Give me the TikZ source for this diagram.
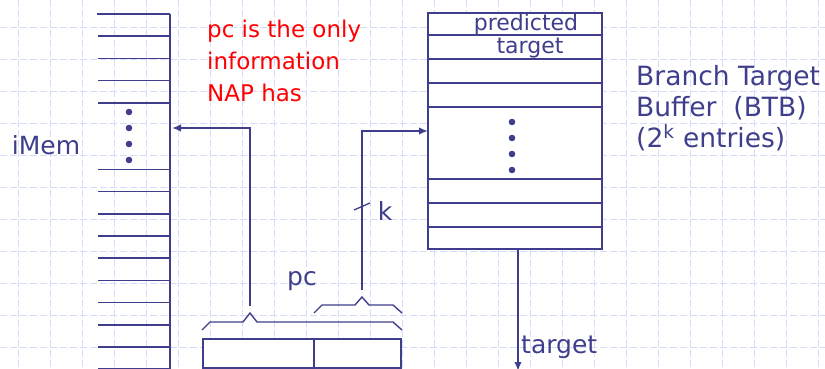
\documentclass[tikz,border=0pt]{standalone}
\usepackage{fontspec}
\setmainfont{DejaVu Sans}
\usetikzlibrary{arrows.meta, positioning, calc}
\definecolor{SlideNavy}{RGB}{62,62,140}
\definecolor{SlideRed}{RGB}{255,0,0}
\definecolor{GridBlue}{RGB}{212,220,250}

\begin{document}
\begin{tikzpicture}[x=1pt,y=-1pt,
	gridline/.style={draw=GridBlue,line width=1.4pt,dash pattern=on 7pt off 3pt},
	memrow/.style={draw=SlideNavy,line width=1.7pt},
	box/.style={draw=SlideNavy,line width=2.4pt,fill=white,inner sep=0pt,outer sep=0pt},
	wire/.style={draw=SlideNavy,line width=1.8pt,-{Latex[length=9pt,width=7.5pt]}},
	brace/.style={draw=SlideNavy,line width=1.4pt},
	lbl/.style={text=SlideNavy,inner sep=0pt,font=\fontsize{25}{30}\selectfont},
	dot/.style={fill=SlideNavy}]
\useasboundingbox (0,0) rectangle (825,369);
% background grid
\foreach \gx in {18.3,50.3,...,818.3}
	\draw[gridline] (\gx,0) -- (\gx,369);
\foreach \gy in {27.3,59.3,...,347.3}
	\draw[gridline] (0,\gy) -- (825,\gy);
% instruction memory
\draw[memrow,line width=2.4pt] (97,14) -- (170,14);
\foreach \n in {1,2,3,4,7,8,9,10,11,12,13,14,15,16}
	\draw[memrow] (98,14+22.2*\n) -- (170,14+22.2*\n);
\draw[draw=SlideNavy,line width=2.4pt] (170,14) -- (170,369);
\foreach \dy in {112,128,144,160}
	\fill[dot] (129,\dy) circle (3.3);
\node[lbl] (imem) at (46,145) {iMem};
\coordinate (memport) at (172,128);
% branch target buffer
\node[box,minimum width=174pt,minimum height=236pt] (btb) at (515,131) {};
\foreach \ry in {35,59,83,107,179,203,227}
	\draw[memrow] (btb.west |- 0,\ry) -- (btb.east |- 0,\ry);
\foreach \dy in {122,138,154,170}
	\fill[dot] (512,\dy) circle (3.3);
\node[lbl,font=\fontsize{22}{24}\selectfont] (pred) at (526,24) {predicted};
\node[lbl,font=\fontsize{22}{24}\selectfont] (predtgt) at (530,48) {target};
\node[lbl,anchor=west,align=left,font=\fontsize{26.5}{31}\selectfont] (btbname) at (636,108)
	{Branch Target\\Buffer\ \ (BTB)\\(2\textsuperscript{k} entries)};
% note
\node[text=SlideRed,inner sep=0pt,anchor=west,align=left,
	font=\fontsize{23}{32}\selectfont] (note) at (207,61)
	{pc is the only\\information\\NAP has};
% pc register
\node[box,minimum width=111pt,minimum height=29pt,anchor=north west] (pchi) at (203,339) {};
\node[box,minimum width=87pt,minimum height=29pt,anchor=north west] (pclo) at (pchi.north east) {};
\node[lbl] (pc) at (302,281) {pc};
\draw[brace] (202,330) -- (210,322) -- (243,322) -- (250,313) -- (257,322) -- (393,322) -- (402,330);
\draw[brace] (314,313) -- (322,305) -- (355,305) -- (362,297) -- (369,305) -- (393,305) -- (402,313);
\coordinate (memsrc) at (250,306);
\coordinate (btbsrc) at (362,290);
% connectors
\draw[wire] (memsrc) |- (memport);
\draw[wire] (btbsrc) |- (btb.west);
\draw[draw=SlideNavy,line width=1.3pt] (354,210) -- (370,203);
\node[lbl] (k) at (385,211) {k};
\coordinate (tgtout) at (518,371);
\draw[wire] (btb.south -| tgtout) -- (tgtout);
\node[lbl,anchor=west] (tgt) at (521,347) {target};
\end{tikzpicture}
\end{document}
